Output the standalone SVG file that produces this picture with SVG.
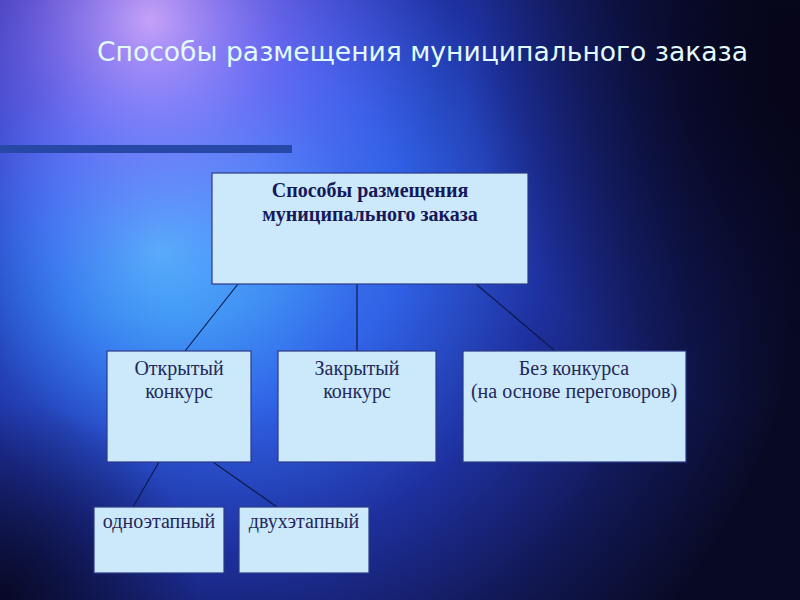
<svg xmlns="http://www.w3.org/2000/svg" width="800" height="600" viewBox="0 0 800 600">
<defs>
<radialGradient id="bg1" cx="230" cy="230" r="580" gradientUnits="userSpaceOnUse">
<stop offset="0" stop-color="#4690f5"/>
<stop offset="0.3" stop-color="#3062e6"/>
<stop offset="0.55" stop-color="#1e309e"/>
<stop offset="0.8" stop-color="#111752"/>
<stop offset="1" stop-color="#080a24"/>
</radialGradient>
<radialGradient id="pink" cx="150" cy="20" r="300" gradientUnits="userSpaceOnUse">
<stop offset="0" stop-color="#e0b0ff" stop-opacity="0.85"/>
<stop offset="0.45" stop-color="#a070ff" stop-opacity="0.45"/>
<stop offset="1" stop-color="#6050ff" stop-opacity="0"/>
</radialGradient>
<radialGradient id="cyan" cx="160" cy="250" r="200" gradientUnits="userSpaceOnUse">
<stop offset="0" stop-color="#5ad8ff" stop-opacity="0.7"/>
<stop offset="1" stop-color="#3aa0ff" stop-opacity="0"/>
</radialGradient>
<radialGradient id="dark" cx="800" cy="80" r="330" gradientUnits="userSpaceOnUse">
<stop offset="0" stop-color="#050418" stop-opacity="0.95"/>
<stop offset="1" stop-color="#050418" stop-opacity="0"/>
</radialGradient>
<radialGradient id="darkbl" cx="0" cy="600" r="200" gradientUnits="userSpaceOnUse">
<stop offset="0" stop-color="#050418" stop-opacity="0.8"/>
<stop offset="1" stop-color="#050418" stop-opacity="0"/>
</radialGradient>
<style>
.box{fill:#cce9fc;stroke:#2a3a86;stroke-width:1.2}
.con{stroke:#0e1a4a;stroke-width:1.2;fill:none}
.t{font-family:"Liberation Serif","DejaVu Serif",serif;font-size:20px;fill:#23285a;text-anchor:middle}
.tb{font-weight:bold;fill:#16185a}
</style>
</defs>
<rect width="800" height="600" fill="url(#bg1)"/>
<rect width="800" height="600" fill="url(#cyan)"/>
<rect width="800" height="600" fill="url(#pink)"/>
<rect width="800" height="600" fill="url(#dark)"/>
<rect width="800" height="600" fill="url(#darkbl)"/>
<text x="97" y="61" font-family="'DejaVu Sans Condensed','DejaVu Sans',sans-serif" font-size="27" fill="#e2fbff" textLength="651" lengthAdjust="spacingAndGlyphs">Способы размещения муниципального заказа</text>
<rect x="0" y="145" width="292" height="8" fill="#2848a8"/>
<g id="connectors">
<line class="con" x1="238" y1="284" x2="185" y2="351"/>
<line class="con" x1="357" y1="284" x2="357" y2="351"/>
<line class="con" x1="476" y1="284" x2="555" y2="351"/>
<line class="con" x1="159" y1="462" x2="133" y2="507"/>
<line class="con" x1="213" y1="462" x2="277" y2="507"/>
</g>
<g id="root">
<rect class="box" x="212" y="173" width="316" height="111"/>
<text class="t tb" x="370" y="197">Способы размещения</text>
<text class="t tb" x="370" y="221">муниципального заказа</text>
</g>
<g id="open">
<rect class="box" x="107" y="351" width="144" height="111"/>
<text class="t" x="179" y="375">Открытый</text>
<text class="t" x="179" y="398">конкурс</text>
</g>
<g id="closed">
<rect class="box" x="278" y="351" width="158" height="111"/>
<text class="t" x="357" y="375">Закрытый</text>
<text class="t" x="357" y="398">конкурс</text>
</g>
<g id="noncomp">
<rect class="box" x="463" y="351" width="223" height="111"/>
<text class="t" x="574" y="375">Без конкурса</text>
<text class="t" x="574" y="398">(на основе переговоров)</text>
</g>
<g id="one">
<rect class="box" x="94" y="507" width="130" height="66"/>
<text class="t" x="159" y="528">одноэтапный</text>
</g>
<g id="two">
<rect class="box" x="239" y="507" width="130" height="66"/>
<text class="t" x="304" y="528">двухэтапный</text>
</g>
</svg>
